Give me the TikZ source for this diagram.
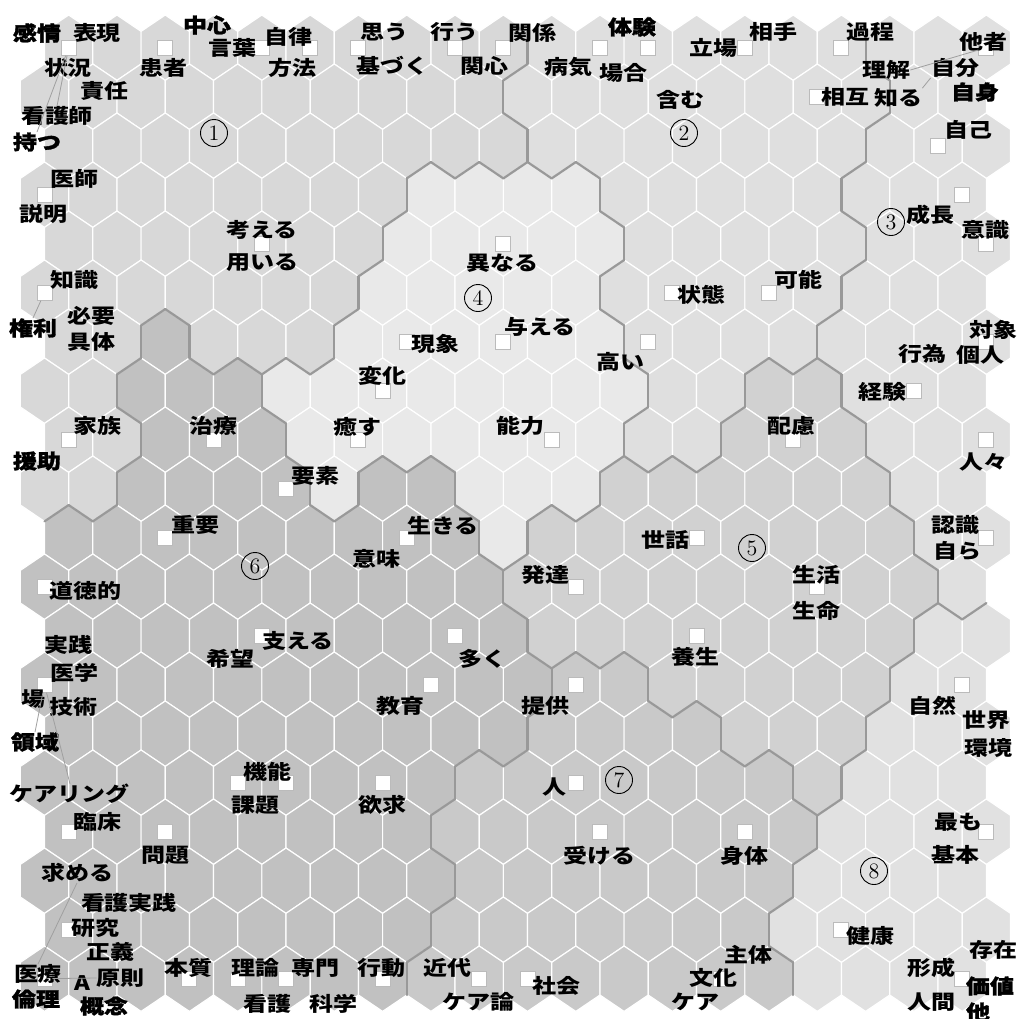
\documentclass[tikz,border=0pt]{standalone}
\usepackage{fontspec}
\newfontfamily\jpfont[FakeStretch=1.2]{Noto Sans CJK JP}
\newfontfamily\jpheavy[FakeStretch=1.2,FakeBold=1.5]{Noto Sans CJK JP}
\definecolor{cl1}{HTML}{D8D8D8}
\definecolor{cl2}{HTML}{DFDFDF}
\definecolor{cl3}{HTML}{E0E0E0}
\definecolor{cl4}{HTML}{E9E9E9}
\definecolor{cl5}{HTML}{D1D1D1}
\definecolor{cl6}{HTML}{C1C1C1}
\definecolor{cl7}{HTML}{C9C9C9}
\definecolor{cl8}{HTML}{E1E1E1}
\definecolor{bndgray}{HTML}{999999}
\definecolor{boxgray}{HTML}{BBBBBB}
\tikzset{
  cellfill/.style={draw=white, line width=0.6pt},
  clusterline/.style={draw=bndgray, line width=1.1pt, line cap=round},
  unitbox/.style={draw=boxgray, fill=white, line width=0.5pt, minimum size=7.5pt, inner sep=0pt},
  word/.style={font=\jpfont\bfseries\fontsize{10}{12}\selectfont, inner sep=0pt},
  wordheavy/.style={font=\jpheavy\bfseries\fontsize{10}{12}\selectfont, inner sep=0pt},
  clusternum/.style={circle, draw, line width=0.45pt, inner sep=0pt, minimum size=13.5pt, font=\fontsize{11}{11}\selectfont},
  leader/.style={draw=gray!75, line width=0.4pt}
}
\begin{document}
\begin{tikzpicture}[x=0.5pt,y=-0.5pt]
  \useasboundingbox (0,0) rectangle (1018,1019);
  \fill[white] (0,0) rectangle (1018,1019);
  % Cluster of each unit, row by row
  \foreach \maprow [count=\rr from 0] in {
    {1,1,1,1,1,1,1,1,1,1,2,2,2,2,2,2,2,3,3,3},
    {1,1,1,1,1,1,1,1,1,1,2,2,2,2,2,2,2,2,3,3},
    {1,1,1,1,1,1,1,1,1,1,2,2,2,2,2,2,2,3,3,3},
    {1,1,1,1,1,1,1,1,4,4,4,4,2,2,2,2,2,3,3,3},
    {1,1,1,1,1,1,1,4,4,4,4,4,2,2,2,2,2,3,3,3},
    {1,1,1,1,1,1,1,4,4,4,4,4,2,2,2,2,2,3,3,3},
    {1,1,6,1,1,1,4,4,4,4,4,4,2,2,2,2,3,3,3,3},
    {1,1,6,6,6,4,4,4,4,4,4,4,4,2,2,5,5,3,3,3},
    {1,1,6,6,6,4,4,4,4,4,4,4,2,2,5,5,5,3,3,3},
    {1,1,6,6,6,6,4,6,6,4,4,4,5,5,5,5,5,5,3,3},
    {6,6,6,6,6,6,6,6,6,4,5,5,5,5,5,5,5,5,3,3},
    {6,6,6,6,6,6,6,6,6,6,5,5,5,5,5,5,5,5,5,3},
    {6,6,6,6,6,6,6,6,6,6,5,5,5,5,5,5,5,5,8,8},
    {6,6,6,6,6,6,6,6,6,6,6,7,7,5,5,5,5,5,8,8},
    {6,6,6,6,6,6,6,6,6,6,7,7,7,7,5,5,5,8,8,8},
    {6,6,6,6,6,6,6,6,6,7,7,7,7,7,7,7,5,8,8,8},
    {6,6,6,6,6,6,6,6,7,7,7,7,7,7,7,7,8,8,8,8},
    {6,6,6,6,6,6,6,6,6,7,7,7,7,7,7,7,8,8,8,8},
    {6,6,6,6,6,6,6,6,7,7,7,7,7,7,7,8,8,8,8,8},
    {6,6,6,6,6,6,6,6,7,7,7,7,7,7,7,7,8,8,8,8}}{
    \foreach \v [count=\cc from 0] in \maprow {
      \expandafter\xdef\csname cl\rr-\cc\endcsname{\v}
    }
  }
  % Hexagon cells
  \foreach \rr in {0,...,19} {
    \foreach \cc in {0,...,19} {
      \pgfmathsetmacro\cx{44.5+24.15*(1-mod(\rr,2))+48.3*\cc}
      \pgfmathsetmacro\cy{47.7+49*\rr}
      \edef\kk{\csname cl\rr-\cc\endcsname}
      \path[cellfill, fill=cl\kk] (\cx,\cy-32.7) -- (\cx+24.15,\cy-16.35) -- (\cx+24.15,\cy+16.35)
        -- (\cx,\cy+32.7) -- (\cx-24.15,\cy+16.35) -- (\cx-24.15,\cy-16.35) -- cycle;
    }
  }
  % Cluster borders
  \foreach \rr in {0,...,19} {
    \foreach \cc in {0,...,19} {
      \pgfmathsetmacro\cx{44.5+24.15*(1-mod(\rr,2))+48.3*\cc}
      \pgfmathsetmacro\cy{47.7+49*\rr}
      \pgfmathtruncatemacro\cnr{\cc+1}
      \pgfmathtruncatemacro\rnext{\rr+1}
      \pgfmathtruncatemacro\cll{\cc-mod(\rr,2)}
      \pgfmathtruncatemacro\clr{\cc+1-mod(\rr,2)}
      \edef\kk{\csname cl\rr-\cc\endcsname}
      \ifcsname cl\rr-\cnr\endcsname
        \ifnum\kk=\csname cl\rr-\cnr\endcsname\relax\else
          \draw[clusterline] (\cx+24.15,\cy-16.35) -- (\cx+24.15,\cy+16.35);
        \fi
      \fi
      \ifcsname cl\rnext-\cll\endcsname
        \ifnum\kk=\csname cl\rnext-\cll\endcsname\relax\else
          \draw[clusterline] (\cx-24.15,\cy+16.35) -- (\cx,\cy+32.7);
        \fi
      \fi
      \ifcsname cl\rnext-\clr\endcsname
        \ifnum\kk=\csname cl\rnext-\clr\endcsname\relax\else
          \draw[clusterline] (\cx,\cy+32.7) -- (\cx+24.15,\cy+16.35);
        \fi
      \fi
    }
  }
  % Units that hold words
  \foreach \rr/\cc in {0/0,0/2,0/4,0/5,0/6,0/8,0/9,0/11,0/12,0/14,0/16,0/19,1/16,2/18,3/0,3/19,
      4/4,4/9,4/19,5/0,5/13,5/15,6/7,6/9,6/12,6/19,7/7,7/18,8/0,8/3,8/6,8/10,8/15,8/19,9/5,
      10/2,10/7,10/13,10/19,11/0,11/11,11/16,12/4,12/8,12/13,13/0,13/8,13/11,13/19,
      15/4,15/5,15/7,15/11,16/0,16/2,16/11,16/14,16/19,18/0,18/16,
      19/0,19/3,19/4,19/5,19/7,19/9,19/10,19/14,19/19} {
    \pgfmathsetmacro\cx{44.5+24.15*(1-mod(\rr,2))+48.3*\cc}
    \pgfmathsetmacro\cy{47.7+49*\rr}
    \node[unitbox] (s-\rr-\cc) at (\cx,\cy) {};
  }
  % Words, top part
  \node[wordheavy] (kanjo) at (37,33) {感情};
  \node[word] (hyogen) at (97,33) {表現};
  \node[word] (jokyo) at (68,68) {状況};
  \node[word] (sekinin) at (104,91) {責任};
  \node[word] (kangoshi) at (57,116) {看護師};
  \node[wordheavy] (motsu) at (37,142) {持つ};
  \node[word] (kanja) at (163,68) {患者};
  \node[wordheavy] (chushin) at (207,25) {中心};
  \node[word] (kotoba) at (232,48) {言葉};
  \node[word] (jiritsu) at (288,37) {自律};
  \node[word] (hoho) at (292,68) {方法};
  \node[word] (omou) at (384,32) {思う};
  \node[word] (motozuku) at (392,66) {基づく};
  \node[word] (okonau) at (454,32) {行う};
  \node[word] (kanshin) at (484,66) {関心};
  \node[word] (kankei) at (532,33) {関係};
  \node[word] (byoki) at (568,67) {病気};
  \node[wordheavy] (taiken) at (632,27) {体験};
  \node[word] (baai) at (623,73) {場合};
  \node[word] (fukumu) at (680,100) {含む};
  \node[word] (tachiba) at (713,48) {立場};
  \node[word] (aite) at (773,32) {相手};
  \node[word] (katei) at (870,32) {過程};
  \node[word] (tasha) at (983,42) {他者};
  \node[word] (rikai) at (886,70) {理解};
  \node[word] (jibun) at (955,68) {自分};
  \node[wordheavy] (jishin) at (975,92) {自身};
  \node[word] (sogo) at (845,97) {相互};
  \node[word] (shiru) at (898,98) {知る};
  \node[word] (jiko) at (968,130) {自己};
  \node[word] (ishi) at (74,179) {医師};
  \node[word] (setsumei) at (43,214) {説明};
  \node[word] (kangaeru) at (262,230) {考える};
  \node[word] (mochiiru) at (262,263) {用いる};
  \node[word] (kotonaru) at (502,263) {異なる};
  \node[word] (seicho) at (930,215) {成長};
  \node[word] (ishiki) at (985,230) {意識};
  \node[word] (chishiki) at (74,280) {知識};
  \node[word] (jotai) at (701,295) {状態};
  \node[word] (kano) at (798,280) {可能};
  \node[wordheavy] (kenri) at (33,328) {権利};
  \node[word] (hitsuyo) at (92,316) {必要};
  \node[word] (gutai) at (92,342) {具体};
  \node[word] (ataeru) at (540,327) {与える};
  \node[word] (taisho) at (993,330) {対象};
  % Words, middle part
  \node[word] (gensho) at (435,344) {現象};
  \node[word] (takai) at (620,362) {高い};
  \node[word] (koi) at (922,354) {行為};
  \node[word] (kojin) at (980,355) {個人};
  \node[word] (henka) at (382,376) {変化};
  \node[word] (keiken) at (882,392) {経験};
  \node[word] (kazoku) at (98,426) {家族};
  \node[word] (chiryo) at (213,426) {治療};
  \node[word] (iyasu) at (357,427) {癒す};
  \node[word] (noryoku) at (520,426) {能力};
  \node[word] (hairyo) at (791,426) {配慮};
  \node[wordheavy] (enjo) at (37,461) {援助};
  \node[word] (hitobito) at (983,462) {人々};
  \node[word] (yoso) at (315,476) {要素};
  \node[word] (juyo) at (195,525) {重要};
  \node[word] (ikiru) at (443,526) {生きる};
  \node[word] (sewa) at (665,540) {世話};
  \node[word] (ninshiki) at (955,525) {認識};
  \node[word] (mizukara) at (957,551) {自ら};
  \node[word] (imi) at (376,559) {意味};
  \node[word] (hattatsu) at (545,575) {発達};
  \node[word] (seikatsu) at (816,575) {生活};
  \node[word] (dotoku) at (85,591) {道徳的};
  \node[word] (seimei) at (816,611) {生命};
  \node[word] (jissen) at (69,645) {実践};
  \node[word] (sasaeru) at (298,641) {支える};
  \node[word] (kibo) at (230,659) {希望};
  \node[word] (ooku) at (482,659) {多く};
  \node[word] (yojo) at (695,657) {養生};
  \node[word] (igaku) at (74,673) {医学};
  \node[word] (ba) at (33,699) {場};
  \node[word] (gijutsu) at (73,707) {技術};
  \node[word] (kyoiku) at (400,706) {教育};
  \node[word] (teikyo) at (545,706) {提供};
  \node[word] (shizen) at (932,706) {自然};
  \node[word] (sekai) at (986,720) {世界};
  \node[wordheavy] (ryoiki) at (35,742) {領域};
  \node[word] (kankyo) at (988,748) {環境};
  % Words, bottom part
  \node[word] (kino) at (267,772) {機能};
  \node[word] (hito) at (554,787) {人};
  \node[word] (kadai) at (255,805) {課題};
  \node[word] (yokkyu) at (382,805) {欲求};
  \node[word] (caring) at (70,794) {ケアリング};
  \node[word] (rinsho) at (98,822) {臨床};
  \node[word] (mottomo) at (958,822) {最も};
  \node[word] (mondai) at (165,855) {問題};
  \node[word] (ukeru) at (599,856) {受ける};
  \node[word] (shintai) at (744,856) {身体};
  \node[word] (kihon) at (955,855) {基本};
  \node[word] (motomeru) at (77,873) {求める};
  \node[word] (kangojissen) at (129,903) {看護実践};
  \node[word] (kenkyu) at (95,928) {研究};
  \node[word] (kenko) at (870,936) {健康};
  \node[word] (seigi) at (110,952) {正義};
  \node[word] (sonzai) at (993,950) {存在};
  \node[word] (shutai) at (748,955) {主体};
  \node[word] (iryo) at (38,974) {医療};
  \node[word] (honshitsu) at (188,968) {本質};
  \node[word] (riron) at (255,968) {理論};
  \node[word] (senmon) at (315,968) {専門};
  \node[word] (kodo) at (381,968) {行動};
  \node[word] (kindai) at (447,968) {近代};
  \node[word] (keisei) at (931,968) {形成};
  \node[word] (bunka) at (713,978) {文化};
  \node[word] (gensoku) at (121,978) {原則};
  \node[word] (letA) at (82,983) {A};
  \node[word] (shakai) at (556,986) {社会};
  \node[wordheavy] (kachi) at (990,986) {価値};
  \node[wordheavy] (rinri) at (36,999) {倫理};
  \node[wordheavy] (gainen) at (104,1006) {概念};
  \node[word] (kango) at (267,1004) {看護};
  \node[word] (kagaku) at (333,1004) {科学};
  \node[word] (kearon) at (478,1002) {ケア論};
  \node[word] (kea) at (695,1002) {ケア};
  \node[word] (ningen) at (931,1002) {人間};
  \node[wordheavy] (hoka) at (978,1012) {他};
  % Leader lines
  \draw[leader] (s-0-0) -- (kangoshi.north);
  \draw[leader] (s-0-0) -- (motsu.north);
  \draw[leader] (s-5-0) -- (kenri.north);
  \draw[leader] (s-0-19) -- (rikai.east);
  \draw[leader] (jibun.south west) -- (shiru.north east);
  \draw[leader] (s-13-0) -- (ryoiki.north);
  \draw[leader] (s-13-0) -- (caring.north);
  \draw[leader] (motomeru.south) -- (iryo.north);
  \draw[leader] (s-19-0) -- (gensoku.west);
  % Cluster numbers
  \node[clusternum] (n1) at (214,133) {1};
  \node[clusternum] (n2) at (684,133) {2};
  \node[clusternum] (n3) at (891,222) {3};
  \node[clusternum] (n4) at (478,298) {4};
  \node[clusternum] (n5) at (752,548) {5};
  \node[clusternum] (n6) at (255,566) {6};
  \node[clusternum] (n7) at (619,780) {7};
  \node[clusternum] (n8) at (874,871) {8};
\end{tikzpicture}
\end{document}
